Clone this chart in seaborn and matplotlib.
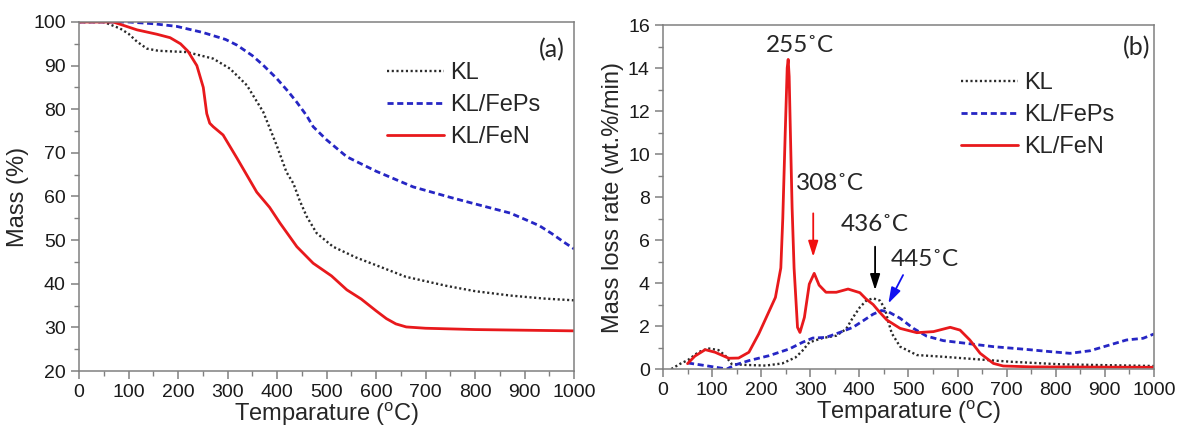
import numpy as np
import pandas as pd
import seaborn as sns
import matplotlib.pyplot as plt

# ---- TGA (a): mass % vs temperature ----
kl_t = [0, 50, 83, 100, 117, 137, 160, 218, 271, 305, 339, 372, 399, 419, 433, 446, 460, 480, 513, 560, 608, 660, 743, 800, 871, 940, 1000]
kl_m = [100, 100, 98.5, 97.3, 95.5, 93.9, 93.4, 93.1, 91.6, 89.3, 85.5, 79.4, 71.8, 65.6, 63.0, 59.0, 55.4, 51.6, 48.5, 46.0, 43.9, 41.6, 39.5, 38.3, 37.3, 36.6, 36.2]

feps_t = [0, 50, 100, 150, 197, 250, 296, 319, 350, 372, 399, 423, 440, 460, 473, 500, 541, 600, 675, 750, 800, 871, 904, 930, 955, 980, 1000]
feps_m = [100, 100, 100, 99.6, 99.0, 97.6, 96.0, 94.7, 92.3, 90.1, 87.1, 84.0, 81.6, 78.5, 76.0, 73.0, 69.1, 65.8, 62.2, 59.8, 58.3, 56.2, 54.6, 53.3, 51.5, 49.5, 48.0]

fen_t = [0, 69, 117, 157, 184, 205, 220, 238, 251, 258, 264, 271, 291, 319, 359, 385, 406, 440, 473, 510, 541, 570, 600, 621, 640, 661, 700, 800, 1000]
fen_m = [100, 100, 98.2, 97.2, 96.4, 95.0, 93.3, 90.0, 85.0, 79.0, 76.8, 76.0, 74.1, 68.8, 61.0, 57.5, 53.9, 48.5, 44.7, 41.8, 38.6, 36.5, 33.8, 32.0, 30.8, 30.1, 29.8, 29.5, 29.2]

# ---- DTG (b): mass loss rate vs temperature ----
kl_rt = [17, 34, 51, 72, 92, 113, 127, 140, 168, 209, 243, 270, 284, 298, 325, 353, 373, 387, 401, 414, 428, 442, 452, 459, 466, 483, 517, 571, 659, 707, 809, 876, 1000]
kl_r = [0.0, 0.23, 0.42, 0.78, 0.96, 0.88, 0.62, 0.23, 0.19, 0.16, 0.26, 0.54, 0.85, 1.24, 1.44, 1.55, 1.86, 2.4, 2.87, 3.18, 3.29, 3.18, 2.8, 2.2, 1.66, 1.04, 0.65, 0.57, 0.42, 0.34, 0.22, 0.19, 0.14]

feps_rt = [51, 86, 130, 147, 175, 216, 257, 284, 305, 332, 360, 387, 408, 428, 445, 460, 483, 510, 537, 571, 619, 673, 741, 788, 829, 870, 910, 944, 978, 1000]
feps_r = [0.28, 0.16, 0.0, 0.19, 0.39, 0.62, 0.93, 1.24, 1.44, 1.47, 1.7, 1.94, 2.25, 2.55, 2.72, 2.65, 2.36, 1.89, 1.53, 1.32, 1.19, 1.04, 0.91, 0.81, 0.73, 0.85, 1.12, 1.35, 1.43, 1.63]

fen_rt = [50, 65, 86, 106, 134, 154, 175, 195, 212, 229, 240, 244, 249, 253, 255, 257, 260, 263, 267, 274, 279, 288, 298, 308, 318, 332, 353, 377, 401, 414, 428, 441, 456, 483, 517, 551, 585, 605, 625, 646, 673, 693, 750, 1000]
fen_r = [0.25, 0.6, 0.9, 0.78, 0.5, 0.51, 0.78, 1.63, 2.48, 3.33, 4.7, 7.0, 11.0, 14.0, 14.4, 13.6, 10.5, 7.5, 4.7, 1.94, 1.7, 2.4, 3.95, 4.45, 3.9, 3.57, 3.57, 3.72, 3.55, 3.25, 3.0, 2.65, 2.28, 1.89, 1.69, 1.74, 1.94, 1.81, 1.35, 0.73, 0.26, 0.14, 0.1, 0.08]

series = ["KL", "KL/FePs", "KL/FeN"]
colors = {"KL": "#2a2a2a", "KL/FePs": "#2626c4", "KL/FeN": "#e8191c"}
styles = {"KL": (0, (0.9, 1.1)), "KL/FePs": (0, (2.2, 1.3)), "KL/FeN": "-"}
widths = {"KL": 1.7, "KL/FePs": 2.0, "KL/FeN": 2.0}

tga = pd.concat([
    pd.DataFrame({"T": kl_t, "y": kl_m, "s": "KL"}),
    pd.DataFrame({"T": feps_t, "y": feps_m, "s": "KL/FePs"}),
    pd.DataFrame({"T": fen_t, "y": fen_m, "s": "KL/FeN"}),
])
dtg = pd.concat([
    pd.DataFrame({"T": kl_rt, "y": kl_r, "s": "KL"}),
    pd.DataFrame({"T": feps_rt, "y": feps_r, "s": "KL/FePs"}),
    pd.DataFrame({"T": fen_rt, "y": fen_r, "s": "KL/FeN"}),
])

sns.set_style("ticks")
plt.rcParams['font.family'] = ['Liberation Sans', 'DejaVu Sans']
plt.rcParams['mathtext.default'] = 'regular'
gray = "#808080"

fig = plt.figure(figsize=(11.78, 4.32), dpi=100)
ax1 = fig.add_axes([0.0671, 0.1412, 0.4202, 0.8079])
ax2 = fig.add_axes([0.5628, 0.1458, 0.4168, 0.7963])


def draw(ax, df, anchor):
    for s in series:
        sub = df[df["s"] == s]
        sns.lineplot(x=sub["T"], y=sub["y"], ax=ax, color=colors[s], label=s,
                     linewidth=widths[s], linestyle=styles[s], sort=False)
    for sp in ax.spines.values():
        sp.set_color(gray)
        sp.set_linewidth(1.1)
    ax.tick_params(which="both", direction="out", color=gray, labelsize=14,
                   top=False, right=False, labelcolor="#1a1a1a")
    ax.tick_params(which="major", length=6, width=1.1)
    ax.tick_params(which="minor", length=3.5, width=1.0)
    ax.set_xlim(0, 1000)
    ax.set_xticks(np.arange(0, 1001, 100))
    ax.set_xticks(np.arange(50, 1000, 100), minor=True)
    ax.set_xlabel("Temparature ($^{o}$C)", fontsize=17, labelpad=0)
    ax.legend(loc="upper left", bbox_to_anchor=anchor, frameon=False,
              fontsize=17, handlelength=2.4, handletextpad=0.25, labelspacing=0.42,
              borderpad=0.4)


draw(ax1, tga, (0.580, 0.945))
ax1.set_ylim(20, 100)
ax1.set_yticks(np.arange(20, 101, 10))
ax1.set_yticks(np.arange(25, 100, 10), minor=True)
ax1.set_ylabel("Mass (%)", fontsize=17, labelpad=3)
ax1.text(0.982, 0.92, "(a)", transform=ax1.transAxes, ha="right", va="center", fontsize=18, family="Lato")

draw(ax2, dtg, (0.564, 0.925))
ax2.set_ylim(0, 16)
ax2.set_yticks(np.arange(0, 17, 2))
ax2.set_yticks(np.arange(1, 16, 2), minor=True)
ax2.set_ylabel("Mass loss rate (wt.%/min)", fontsize=17, labelpad=3)
ax2.text(0.992, 0.935, "(b)", transform=ax2.transAxes, ha="right", va="center", fontsize=18, family="Lato")

ann = dict(fontsize=17.5, family="Lato", ha="center", va="center")
ax2.text(279, 15.07, "255˚C", **ann)
ax2.text(340, 8.64, "308˚C", **ann)
ax2.text(432, 6.7, "436˚C", **ann)
ax2.text(533, 5.1, "445˚C", **ann)
head = "-|>,head_width=0.3,head_length=0.95"
ax2.annotate("", xy=(306, 5.22), xytext=(306, 7.24),
             arrowprops=dict(arrowstyle=head, color="#f01010", lw=1.3, shrinkA=0, shrinkB=0))
ax2.annotate("", xy=(432, 3.67), xytext=(432, 5.69),
             arrowprops=dict(arrowstyle=head, color="black", lw=1.3, shrinkA=0, shrinkB=0))
ax2.annotate("", xy=(459, 3.05), xytext=(489, 4.37),
             arrowprops=dict(arrowstyle=head, color="#1010f0", lw=1.3, shrinkA=0, shrinkB=0))

fig.savefig("out.png", dpi=100)
